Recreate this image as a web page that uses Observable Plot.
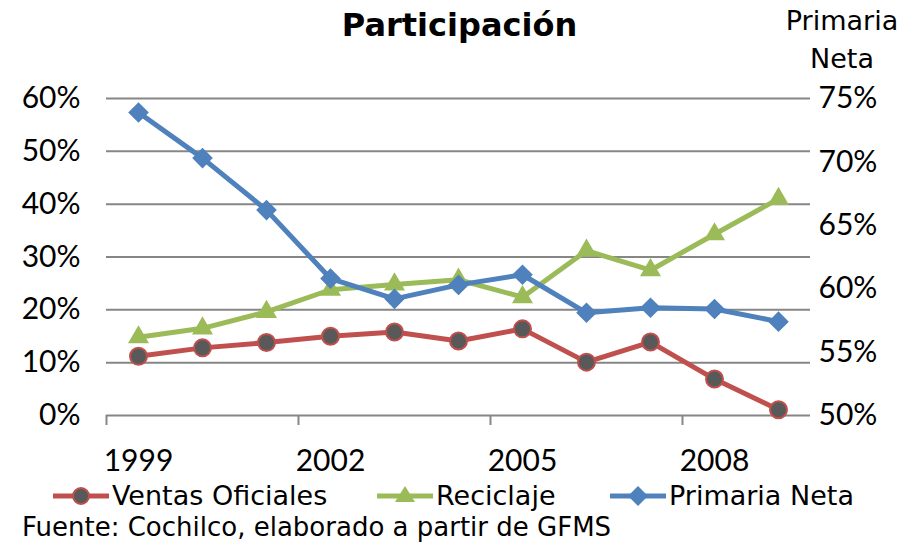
<!DOCTYPE html>
<html>
<head>
<meta charset="utf-8">
<script src="https://cdn.jsdelivr.net/npm/d3@7"></script>
<script src="https://cdn.jsdelivr.net/npm/@observablehq/plot@0.6"></script>
<style>
  html, body { margin: 0; padding: 0; background: #fff; }
  #wrap { position: relative; width: 919px; height: 546px; font-family: "DejaVu Sans", sans-serif; color: #000; }
  .abs { position: absolute; white-space: nowrap; }
  #title { left: 0; width: 919px; top: 6px; text-align: center; font-weight: bold; font-size: 32px; }
  #rtitle { left: 780px; width: 124px; top: 2px; text-align: center; font-size: 27px; line-height: 38px; }
  .item { position: absolute; top: 480px; display: flex; align-items: center; font-size: 27px; white-space: nowrap; }
  .item svg { margin-right: 3px; }
  #caption { left: 22px; top: 512px; font-size: 26px; }
</style>
</head>
<body>
<div id="wrap"></div>
<script>
const years = [1999, 2000, 2001, 2002, 2003, 2004, 2005, 2006, 2007, 2008, 2009];
const ventasOficiales = [11.2, 12.8, 13.8, 15.0, 15.8, 14.1, 16.4, 10.1, 13.9, 6.9, 1.1];
const reciclaje = [14.8, 16.5, 19.6, 23.8, 24.8, 25.7, 22.4, 31.2, 27.5, 34.3, 41.0];
const primariaNeta = [73.9, 70.3, 66.2, 60.8, 59.2, 60.3, 61.1, 58.1, 58.5, 58.4, 57.4];
const leftTicks = [0, 10, 20, 30, 40, 50, 60];
const rightTicks = [50, 55, 60, 65, 70, 75];
const xLabelYears = [1999, 2002, 2005, 2008];

const colors = { ventas: "#C0504D", reciclaje: "#9BBB59", primaria: "#4F81BD" };
const markerFill = "#595959";

// secondary axis (50%-75%) mapped onto primary (0%-60%)
const toLeft = v => (v - 50) * 60 / 25;
const fromLeft = d => 50 + d * 25 / 60;

const data = years.map((y, i) => ({
  year: y,
  ventas: ventasOficiales[i],
  reciclaje: reciclaje[i],
  primaria: toLeft(primariaNeta[i])
}));
const boundaries = xLabelYears.map(y => y - 0.5);

const chart = Plot.plot({
  width: 919,
  height: 546,
  marginLeft: 106,
  marginRight: 109,
  marginTop: 98,
  marginBottom: 131,
  style: { fontFamily: "Lato, sans-serif", fontSize: "30px", color: "#000", background: "transparent" },
  x: { type: "linear", domain: [years[0] - 0.5, years[years.length - 1] + 0.5], label: null },
  y: { type: "linear", domain: [0, 60], label: null },
  marks: [
    Plot.ruleY(leftTicks, { y: d => d, stroke: "#868686", strokeWidth: 2 }),
    Plot.axisX(boundaries, { tickSize: 10, tickFormat: () => "", label: null, stroke: "#868686", strokeWidth: 2, strokeOpacity: 1 }),
    Plot.axisX(xLabelYears, { tickSize: 0, tickPadding: 34, label: null, tickFormat: d => String(d) }),
    Plot.axisY(leftTicks, { anchor: "left", tickSize: 0, tickPadding: 26, label: null, tickFormat: d => d + "%" }),
    Plot.axisY(rightTicks.map(toLeft), { anchor: "right", tickSize: 0, tickPadding: 8, label: null, tickFormat: d => Math.round(fromLeft(d)) + "%" }),
    Plot.line(data, { x: "year", y: "ventas", stroke: colors.ventas, strokeWidth: 5 }),
    Plot.dot(data, { x: "year", y: "ventas", r: 8.5, fill: markerFill, stroke: colors.ventas, strokeWidth: 2 }),
    Plot.line(data, { x: "year", y: "reciclaje", stroke: colors.reciclaje, strokeWidth: 5 }),
    Plot.dot(data, { x: "year", y: "reciclaje", symbol: "triangle", r: 7.8, fill: colors.reciclaje, stroke: "none" }),
    Plot.line(data, { x: "year", y: "primaria", stroke: colors.primaria, strokeWidth: 5 }),
    Plot.dot(data, { x: "year", y: "primaria", symbol: "diamond2", r: 9.3, fill: colors.primaria, stroke: "none" })
  ]
});

const wrap = document.getElementById("wrap");
chart.style.position = "absolute";
chart.style.left = "0px";
chart.style.top = "0px";
wrap.appendChild(chart);

function addDiv(id, html) {
  const d = document.createElement("div");
  if (id) d.id = id;
  d.className = "abs"; d.innerHTML = html;
  wrap.appendChild(d);
  return d;
}
addDiv("title", "Participación");
addDiv("rtitle", "Primaria<br>Neta");

const legendItems = [
  { label: "Ventas Oficiales", color: colors.ventas, shape: "circle", left: 53 },
  { label: "Reciclaje", color: colors.reciclaje, shape: "triangle", left: 377 },
  { label: "Primaria Neta", color: colors.primaria, shape: "diamond", left: 610 }
];
legendItems.forEach(it => {
  const item = document.createElement("div");
  item.className = "item";
  item.style.left = it.left + "px";
  let marker;
  if (it.shape === "circle") marker = `<circle cx="28" cy="14" r="8" fill="${markerFill}" stroke="${it.color}" stroke-width="2"/>`;
  else if (it.shape === "triangle") marker = `<path d="M28,4 L38,20 L18,20 Z" fill="${it.color}"/>`;
  else marker = `<path d="M28,4 L38,14 L28,24 L18,14 Z" fill="${it.color}"/>`;
  item.innerHTML = `<svg width="56" height="28"><line x1="0" y1="14" x2="56" y2="14" stroke="${it.color}" stroke-width="5"/>${marker}</svg><span>${it.label}</span>`;
  wrap.appendChild(item);
});
addDiv("caption", "Fuente: Cochilco, elaborado a partir de GFMS");
</script>
</body>
</html>
